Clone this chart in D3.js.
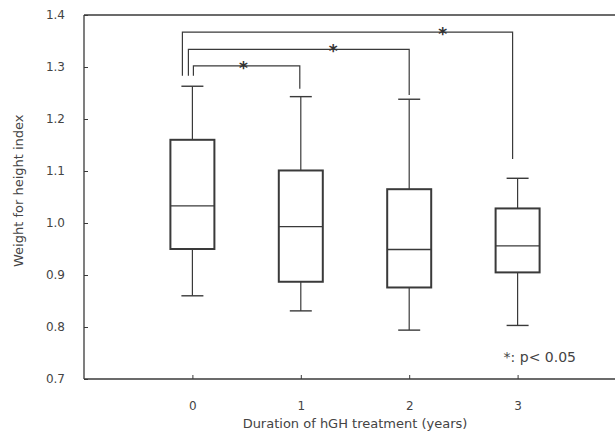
<!DOCTYPE html>
<html>
<head>
<meta charset="utf-8">
<script src="https://cdn.jsdelivr.net/npm/d3@7"></script>
<style>
  body { margin: 0; background: #fff; }
  svg { display: block; }
  text { font-family: "DejaVu Sans", sans-serif; fill: #444; }
</style>
</head>
<body>
<svg id="chart" width="615" height="434"></svg>
<script>
// ---- data ----
const categories = [0, 1, 2, 3];
const whiskerLow  = [0.860, 0.831, 0.794, 0.803];
const q1          = [0.950, 0.887, 0.876, 0.905];
const medians     = [1.033, 0.993, 0.949, 0.956];
const q3          = [1.160, 1.101, 1.065, 1.028];
const whiskerHigh = [1.263, 1.243, 1.238, 1.086];
const yTicks = [0.7, 0.8, 0.9, 1.0, 1.1, 1.2, 1.3, 1.4];
const xTickLabels = ["0", "1", "2", "3"];
// significance brackets: compared groups, bracket level, bottom of left/right legs
const bracketFrom  = [0, 0, 0];
const bracketTo    = [1, 2, 3];
const bracketLevel = [1.302, 1.334, 1.367];
const bracketLeftEnd  = [1.283, 1.283, 1.283];
const bracketRightEnd = [1.258, 1.246, 1.123];
const starFrac = [0.47, 0.65, 0.77];   // position of the star along each bracket
const sigNote = "*: p< 0.05";

// ---- layout ----
const svg = d3.select("#chart");
const x = d3.scaleLinear().domain([-1, 4]).range([84, 626]);
const y = d3.scaleLinear().domain([0.7, 1.4]).range([379, 15]);
const stroke = "#3a3a3a";
const font = "DejaVu Sans, sans-serif";
const boxW = 44, capW = 22;
const legOffset = [1, -4, -10];
const rightOffset = [-1, 0, -5];

// frame
svg.append("line").attr("x1", x(-1)).attr("x2", x(-1)).attr("y1", y(1.4)).attr("y2", y(0.7))
  .attr("stroke", stroke).attr("stroke-width", 1.3);
svg.append("line").attr("x1", x(-1)).attr("x2", 615).attr("y1", y(1.4)).attr("y2", y(1.4))
  .attr("stroke", stroke).attr("stroke-width", 1.3);

// y axis
const yAxis = d3.axisRight(y).tickValues(yTicks).tickSize(4).tickFormat(d3.format(".1f"));
const gy = svg.append("g").attr("transform", `translate(${x(-1)},0)`).call(yAxis);
gy.select(".domain").remove();
gy.selectAll(".tick line").attr("stroke", stroke);
gy.selectAll(".tick text").attr("x", -19).attr("text-anchor", "end")
  .attr("font-size", 12).style("fill", "#444").style("font-family", font);

// x axis
const xAxis = d3.axisTop(x).tickValues(categories).tickSize(4).tickFormat((d, i) => xTickLabels[i]);
const gx = svg.append("g").attr("transform", `translate(0,${y(0.7)})`).call(xAxis);
gx.select(".domain").remove();
gx.selectAll(".tick line").attr("stroke", stroke);
gx.selectAll(".tick text").attr("y", 27).attr("dy", "0.35em").attr("font-size", 12)
  .style("fill", "#444").style("font-family", font);
svg.append("line").attr("x1", x(-1)).attr("x2", 615).attr("y1", y(0.7)).attr("y2", y(0.7))
  .attr("stroke", stroke).attr("stroke-width", 1.3);

// boxes
const g = svg.append("g");
categories.forEach((c, i) => {
  const cx = x(c);
  g.append("line").attr("x1", cx).attr("x2", cx).attr("y1", y(q3[i])).attr("y2", y(whiskerHigh[i]))
    .attr("stroke", stroke).attr("stroke-width", 1.2);
  g.append("line").attr("x1", cx).attr("x2", cx).attr("y1", y(q1[i])).attr("y2", y(whiskerLow[i]))
    .attr("stroke", stroke).attr("stroke-width", 1.2);
  g.append("line").attr("x1", cx - capW / 2).attr("x2", cx + capW / 2)
    .attr("y1", y(whiskerHigh[i])).attr("y2", y(whiskerHigh[i])).attr("stroke", stroke).attr("stroke-width", 1.4);
  g.append("line").attr("x1", cx - capW / 2).attr("x2", cx + capW / 2)
    .attr("y1", y(whiskerLow[i])).attr("y2", y(whiskerLow[i])).attr("stroke", stroke).attr("stroke-width", 1.4);
  g.append("rect").attr("x", cx - boxW / 2).attr("width", boxW)
    .attr("y", y(q3[i])).attr("height", y(q1[i]) - y(q3[i]))
    .attr("fill", "none").attr("stroke", stroke).attr("stroke-width", 2);
  g.append("line").attr("x1", cx - boxW / 2).attr("x2", cx + boxW / 2)
    .attr("y1", y(medians[i])).attr("y2", y(medians[i])).attr("stroke", stroke).attr("stroke-width", 1.4);
});

// significance brackets
bracketFrom.forEach((f, i) => {
  const x1 = x(f) + legOffset[i];
  const x2 = x(bracketTo[i]) + rightOffset[i];
  const path = d3.path();
  path.moveTo(x1, y(bracketLeftEnd[i]));
  path.lineTo(x1, y(bracketLevel[i]));
  path.lineTo(x2, y(bracketLevel[i]));
  path.lineTo(x2, y(bracketRightEnd[i]));
  svg.append("path").attr("d", path.toString()).attr("fill", "none")
    .attr("stroke", stroke).attr("stroke-width", 1.2);
  const sx = x(f) + (x(bracketTo[i]) - x(f)) * starFrac[i];
  svg.append("text").attr("x", sx).attr("y", y(bracketLevel[i]) + 8)
    .attr("text-anchor", "middle").attr("font-size", 17).attr("font-weight", "bold")
    .style("fill", "#333").text("*");
});

// note
svg.append("text").attr("x", 576).attr("y", 362).attr("text-anchor", "end")
  .attr("font-size", 14).text(sigNote);

// axis titles
svg.append("text").attr("x", x(1.5)).attr("y", 428).attr("text-anchor", "middle")
  .attr("font-size", 13).text("Duration of hGH treatment (years)");
svg.append("text").attr("transform", `translate(23,${y(1.062)}) rotate(-90)`)
  .attr("text-anchor", "middle").attr("font-size", 13).text("Weight for height index");
</script>
</body>
</html>
